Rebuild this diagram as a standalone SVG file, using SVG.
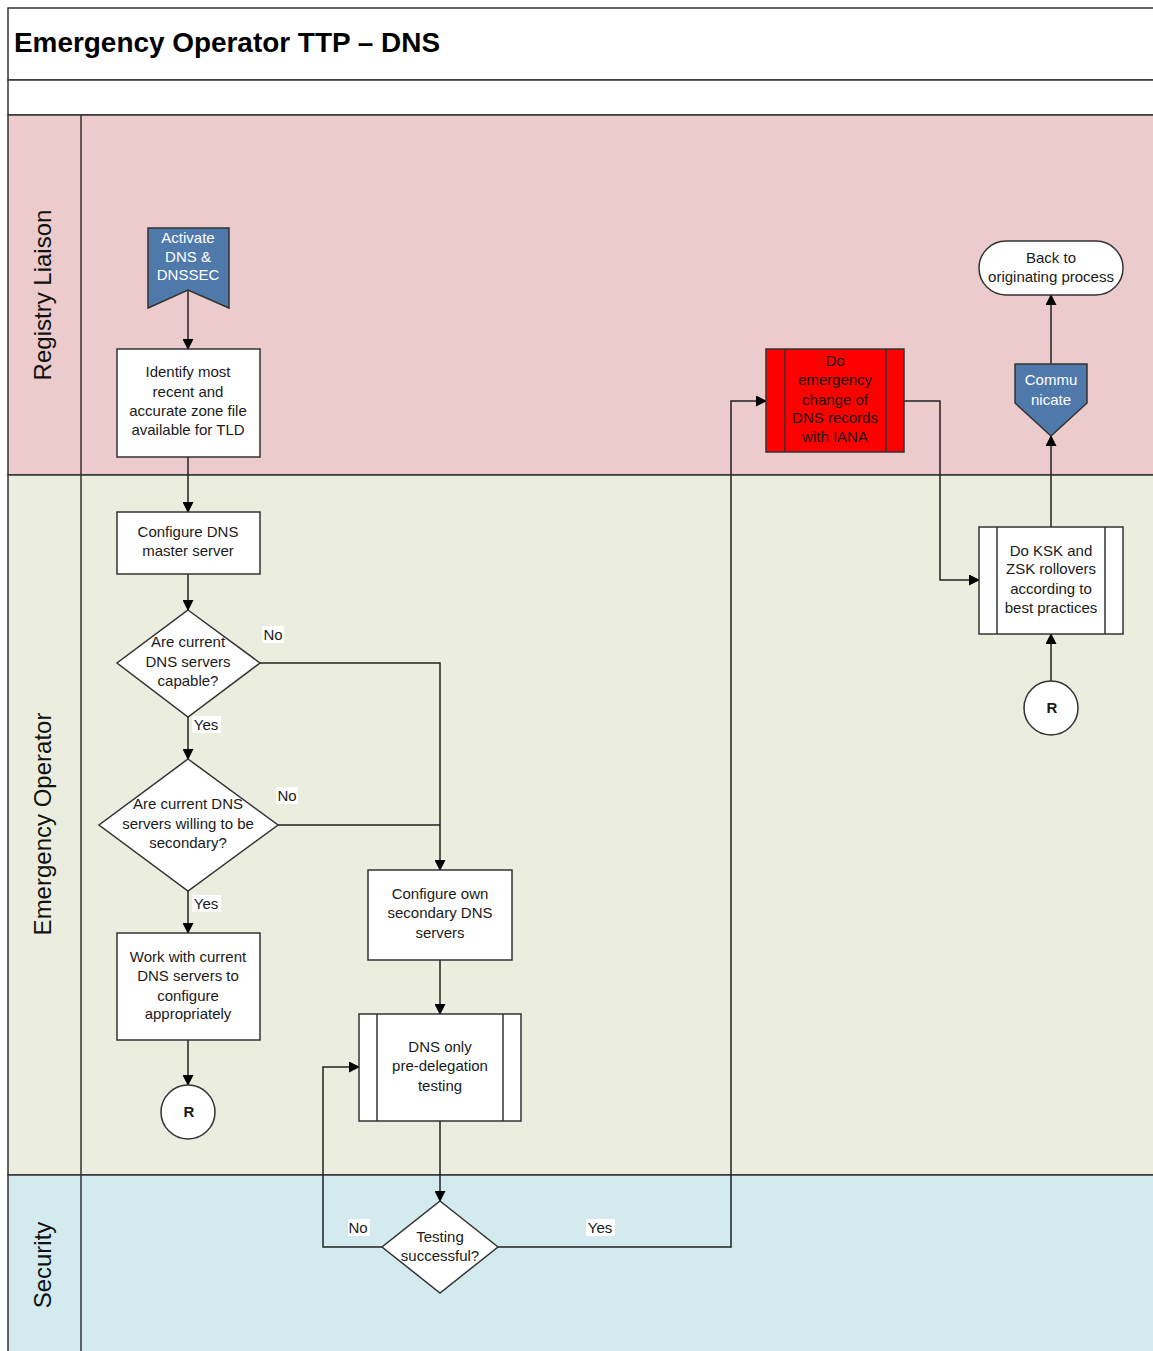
<svg xmlns="http://www.w3.org/2000/svg" width="1153" height="1351" viewBox="0 0 1153 1351">
<defs>
<marker id="ah" markerWidth="11" markerHeight="11" refX="10" refY="5.5" orient="auto" markerUnits="userSpaceOnUse">
<path d="M0,0 L11,5.5 L0,11 z" fill="#000"/>
</marker>
<style>
.t{font-family:"Liberation Sans",Arial,sans-serif;font-size:15px;fill:#1a1a1a;text-anchor:middle}
.w{fill:#fff;stroke:#333;stroke-width:1.5}
.lane{font-family:"Liberation Sans",Arial,sans-serif;font-size:24px;fill:#111;text-anchor:middle}
.c{fill:none;stroke:#222;stroke-width:1.5;marker-end:url(#ah)}
.cn{fill:none;stroke:#222;stroke-width:1.5}
.lb{fill:#fff}
.blue{fill:#4F79AB;stroke:#333;stroke-width:1.5}
.wt{font-family:"Liberation Sans",Arial,sans-serif;font-size:15px;fill:#fff;text-anchor:middle}
</style>
</defs>
<rect x="0" y="0" width="1153" height="1351" fill="#fff"/>
<!-- lanes -->
<g id="lanes">
<rect x="8" y="8" width="1150" height="72" fill="#fff" stroke="#333" stroke-width="1.5"/>
<rect x="8" y="80" width="1150" height="35" fill="#fff" stroke="#333" stroke-width="1.5"/>
<rect x="8" y="115" width="1150" height="360" fill="#EBCBCB" stroke="#333" stroke-width="1.5"/>
<rect x="8" y="475" width="1150" height="700" fill="#EBEEDF" stroke="#333" stroke-width="1.5"/>
<rect x="8" y="1175" width="1150" height="180" fill="#D3EAEF" stroke="#333" stroke-width="1.5"/>
<line x1="81" y1="115" x2="81" y2="1351" stroke="#333" stroke-width="1.5"/>
<text x="14" y="52" font-family="Liberation Sans,Arial,sans-serif" font-size="28" font-weight="bold" fill="#000" textLength="426" lengthAdjust="spacingAndGlyphs">Emergency Operator TTP – DNS</text>
<text class="lane" transform="translate(51,295) rotate(-90)">Registry Liaison</text>
<text class="lane" transform="translate(51,824) rotate(-90)">Emergency Operator</text>
<text class="lane" transform="translate(51,1265) rotate(-90)">Security</text>
</g>
<!-- connectors -->
<g id="connectors">
<path class="c" d="M188,290 L188,349"/>
<path class="c" d="M188,457 L188,512"/>
<path class="c" d="M188,574 L188,610"/>
<path class="c" d="M188,717 L188,759"/>
<path class="c" d="M260,663 L440,663 L440,870"/>
<path class="cn" d="M278,825 L440,825"/>
<path class="c" d="M188,891 L188,933"/>
<path class="c" d="M188,1040 L188,1085"/>
<path class="c" d="M440,960 L440,1014"/>
<path class="c" d="M440,1121 L440,1201"/>
<path class="c" d="M382,1247 L323,1247 L323,1067 L359,1067"/>
<path class="c" d="M498,1247 L731,1247 L731,401 L766,401"/>
<path class="c" d="M904,401 L940,401 L940,580 L979,580"/>
<path class="c" d="M1051,681 L1051,634"/>
<path class="c" d="M1051,527 L1051,436"/>
<path class="c" d="M1051,364 L1051,295"/>
<rect class="lb" x="262" y="626" width="22" height="17"/><text class="t" x="273" y="640">No</text>
<rect class="lb" x="276" y="787" width="22" height="17"/><text class="t" x="287" y="801">No</text>
<rect class="lb" x="192" y="716" width="29" height="17"/><text class="t" x="206" y="730">Yes</text>
<rect class="lb" x="192" y="895" width="29" height="17"/><text class="t" x="206" y="909">Yes</text>
<rect class="lb" x="348" y="1219" width="22" height="17"/><text class="t" x="358" y="1233">No</text>
<rect class="lb" x="586" y="1219" width="29" height="17"/><text class="t" x="600" y="1233">Yes</text>
</g>
<!-- nodes -->
<g id="activate">
<path class="blue" d="M148,228 L229,228 L229,308 L188,290 L148,308 z"/>
<text class="wt" x="188" y="243">Activate</text>
<text class="wt" x="188" y="262">DNS &amp;</text>
<text class="wt" x="188" y="280">DNSSEC</text>
</g>
<g id="identify">
<rect class="w" x="117" y="349" width="143" height="108"/>
<text class="t" x="188" y="377">Identify most</text>
<text class="t" x="188" y="397">recent and</text>
<text class="t" x="188" y="416">accurate zone file</text>
<text class="t" x="188" y="435">available for TLD</text>
</g>
<g id="configmaster">
<rect class="w" x="117" y="512" width="143" height="62"/>
<text class="t" x="188" y="537">Configure DNS</text>
<text class="t" x="188" y="556">master server</text>
</g>
<g id="capable">
<path class="w" d="M188,610 L260,663 L188,717 L117,663 z"/>
<text class="t" x="188" y="647">Are current</text>
<text class="t" x="188" y="667">DNS servers</text>
<text class="t" x="188" y="686">capable?</text>
</g>
<g id="willing">
<path class="w" d="M188,759 L278,825 L188,891 L99,825 z"/>
<text class="t" x="188" y="809">Are current DNS</text>
<text class="t" x="188" y="829">servers willing to be</text>
<text class="t" x="188" y="848">secondary?</text>
</g>
<g id="workwith">
<rect class="w" x="117" y="933" width="143" height="107"/>
<text class="t" x="188" y="962">Work with current</text>
<text class="t" x="188" y="981">DNS servers to</text>
<text class="t" x="188" y="1001">configure</text>
<text class="t" x="188" y="1019">appropriately</text>
</g>
<g id="r1">
<circle class="w" cx="188" cy="1112" r="27"/>
<text class="t" x="189" y="1117" font-weight="bold" fill="#000">R</text>
</g>
<g id="configown">
<rect class="w" x="368" y="870" width="144" height="90"/>
<text class="t" x="440" y="899">Configure own</text>
<text class="t" x="440" y="918">secondary DNS</text>
<text class="t" x="440" y="938">servers</text>
</g>
<g id="predeleg">
<rect class="w" x="359" y="1014" width="162" height="107"/>
<line x1="377" y1="1014" x2="377" y2="1121" stroke="#333" stroke-width="1.5"/>
<line x1="503" y1="1014" x2="503" y2="1121" stroke="#333" stroke-width="1.5"/>
<text class="t" x="440" y="1052">DNS only</text>
<text class="t" x="440" y="1071">pre-delegation</text>
<text class="t" x="440" y="1091">testing</text>
</g>
<g id="testing">
<path class="w" d="M440,1201 L498,1247 L440,1293 L382,1247 z"/>
<text class="t" x="440" y="1242">Testing</text>
<text class="t" x="440" y="1261">successful?</text>
</g>
<g id="iana">
<rect x="766" y="349" width="138" height="103" fill="#FF0000" stroke="#333" stroke-width="1.5"/>
<line x1="785" y1="349" x2="785" y2="452" stroke="#333" stroke-width="1.5"/>
<line x1="886" y1="349" x2="886" y2="452" stroke="#333" stroke-width="1.5"/>
<text class="t" x="835" y="366">Do</text>
<text class="t" x="835" y="385">emergency</text>
<text class="t" x="835" y="405">change of</text>
<text class="t" x="835" y="423">DNS records</text>
<text class="t" x="835" y="442">with IANA</text>
</g>
<g id="backto">
<rect class="w" x="979" y="241" width="144" height="54" rx="27" ry="27"/>
<text class="t" x="1051" y="263">Back to</text>
<text class="t" x="1051" y="282">originating process</text>
</g>
<g id="communicate">
<path class="blue" d="M1015,364 L1087,364 L1087,403 L1051,436 L1015,403 z"/>
<text class="wt" x="1051" y="385">Commu</text>
<text class="wt" x="1051" y="405">nicate</text>
</g>
<g id="ksk">
<rect class="w" x="979" y="527" width="144" height="107"/>
<line x1="997" y1="527" x2="997" y2="634" stroke="#333" stroke-width="1.5"/>
<line x1="1105" y1="527" x2="1105" y2="634" stroke="#333" stroke-width="1.5"/>
<text class="t" x="1051" y="556">Do KSK and</text>
<text class="t" x="1051" y="574">ZSK rollovers</text>
<text class="t" x="1051" y="594">according to</text>
<text class="t" x="1051" y="613">best practices</text>
</g>
<g id="r2">
<circle class="w" cx="1051" cy="708" r="27"/>
<text class="t" x="1052" y="713" font-weight="bold" fill="#000">R</text>
</g>
</svg>
